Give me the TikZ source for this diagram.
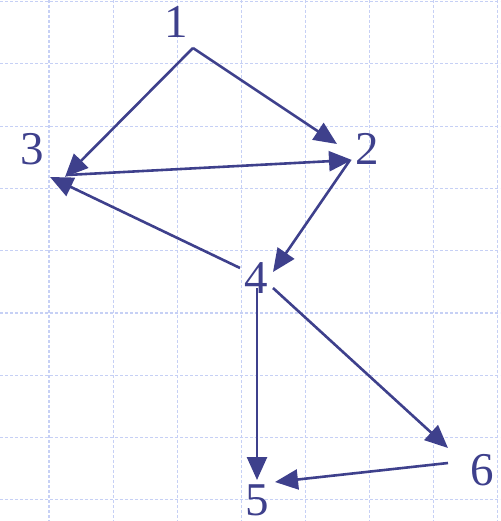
\documentclass[tikz,border=0pt]{standalone}
\usepackage{fontspec}
\setmainfont{Liberation Serif}
\usetikzlibrary{arrows.meta}
\definecolor{ink}{RGB}{62,64,140}
\definecolor{gridblue}{RGB}{198,208,245}
\tikzset{
  vertex/.style={text=ink, font=\fontsize{47}{47}\selectfont, inner sep=0pt, anchor=base},
  edge/.style={draw=ink, line width=2.6pt, -{Triangle[length=23pt,width=20pt]}},
  gridline/.style={gridblue, line width=1.1pt, dash pattern=on 3pt off 2pt},
}
\begin{document}
\begin{tikzpicture}[x=1pt,y=-1pt]
    \useasboundingbox (0,0) rectangle (500,521);
    % background grid
    \foreach \i in {0,...,7}
        \draw[gridline] ({49+64.1*\i},0) -- ++(0,521);
    \foreach \j in {0,...,8}
        \draw[gridline] (0,{1.5+62.3*\j}) -- ++(500,0);
    % vertices
    \node[vertex] (n1) at (176,38) {1};
    \node[vertex] (n2) at (367,165) {2};
    \node[vertex] (n3) at (32,165) {3};
    \node[vertex] (n4) at (256,293) {4};
    \node[vertex] (n5) at (257,515) {5};
    \node[vertex] (n6) at (482,485) {6};
    % edges
    \draw[edge] ([shift={(17,10)}]n1.base) -- ([shift={(33,12)}]n3.base);
    \draw[edge] ([shift={(17,10)}]n1.base) -- ([shift={(-30,-21)}]n2.base);
    \draw[edge] ([shift={(35,10)}]n3.base) -- ([shift={(-15,-5)}]n2.base);
    \draw[edge] ([shift={(-17,-5)}]n2.base) -- ([shift={(17,-21)}]n4.base);
    \draw[edge] ([shift={(-16,-25)}]n4.base) -- ([shift={(18,12)}]n3.base);
    \draw[edge] ([shift={(1,-5)}]n4.base) -- ([shift={(0,-35)}]n5.base);
    \draw[edge] ([shift={(17,-5)}]n4.base) -- ([shift={(-34,-37)}]n6.base);
    \draw[edge] ([shift={(-34,-22)}]n6.base) -- ([shift={(18,-33)}]n5.base);
\end{tikzpicture}
\end{document}
